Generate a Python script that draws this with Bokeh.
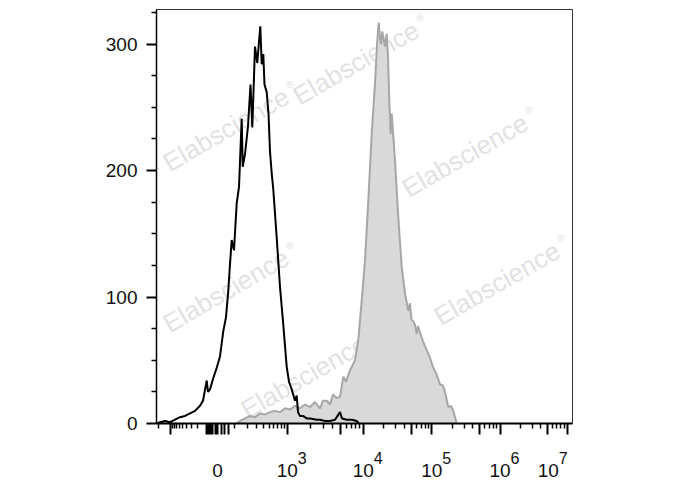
import numpy as np
from bokeh.plotting import figure
from bokeh.models import Range1d, FixedTicker, Label, LinearAxis
from bokeh.embed import file_html
from bokeh.resources import INLINE

# ---------------- data (x in display units of the biexponential scale, 0 = zero intensity) -------------
black_x = [-61, -60.5, -57.5, -52.5, -47.5, -42.5, -37.5, -32.5, -27.5, -22.5, -17.5, -14.5, -10.8, -9.5,
           -7.5, -4.2, -0.8, 2.5, 5.8, 8.5, 10.8, 12.5, 14.2, 16.5, 19.2, 21.5, 24.2, 25.2, 27.5, 30.5,
           33.0, 34.8, 37.5, 39.8, 41.3, 42.8, 44.2, 45.8, 47.0, 49.2, 51.0, 52.5, 54.2, 55.8, 59.2, 62.5,
           65.8, 69.2, 71.5, 74.2, 77.5, 79.2, 80.5, 82.5, 85.5, 89.2, 92.5, 99.2, 102.5, 107.5, 112.5,
           117.5, 122.5, 124.5, 129.2, 134.5, 139.2, 141.5]
black_counts = [0, 0, 1, 2, 1, 3, 5, 6, 8, 10, 14, 18, 34, 25,
                27, 36, 44, 53, 73, 84, 105, 126, 145, 137, 174, 187, 241, 203, 213, 235,
                268, 234, 298, 285, 300, 314, 284, 292, 268, 262, 245, 215, 198, 185, 147, 108,
                78, 45, 33, 27, 18, 22, 9, 6, 6, 4, 4, 3, 3, 2, 2,
                3, 9, 4, 3, 3, 2, 0]

grey_x = [18.5, 22.5, 27.5, 32.5, 37.5, 42.5, 47.5, 52.5, 57.5, 62.5, 67.5, 72.5, 77.5, 82.5, 87.5,
          92.5, 97.5, 102.5, 105.5, 109.2, 112.5, 115.5, 119.5, 122.5, 125.8, 128.5, 132.5, 137.5,
          140.8, 144.2, 147.5, 150.8, 154.2, 157.5, 159.8, 161.2, 162.5, 163.5, 164.8, 167.5, 169.2,
          170.5, 171.8, 173.2, 174.2, 177.5, 180.8, 184.2, 187.5, 190.8, 192.5, 194.0, 195.8, 197.5,
          199.2, 200.5, 202.5, 205.5, 209.2, 212.5, 215.8, 218.5, 222.5, 225.5, 227.5, 230.8, 233.5,
          235.8, 239.2]
grey_counts = [0, 2, 4, 6, 5, 8, 7, 9, 10, 9, 12, 11, 14, 12, 15,
               13, 17, 12, 18, 18, 15, 23, 20, 21, 37, 33, 42, 50,
               66, 97, 129, 176, 229, 269, 303, 317, 305, 300, 310, 298, 308,
               290, 255, 229, 245, 208, 163, 124, 103, 89, 95, 82, 81, 78,
               71, 77, 72, 65, 58, 52, 44, 40, 31, 30, 25, 13, 14,
               10, 0]

y_major = [0, 100, 200, 300]
y_minor = [25, 50, 75, 125, 150, 175, 225, 250, 275, 325]

decade_exponents = [3, 4, 5, 6, 7]
zero_label = "0"
base_label = "10"
watermark_text = "Elabscience"

# ---------------- biexponential display scale calibration -------------
SCALE_C = 146.0
DECADE_VALUES = [0, 1e3, 1e4, 1e5, 1e6, 1e7]
DECADE_POS = [0.0, 69.8, 145.8, 214.2, 282.5, 349.8]
NEG_SLOPE = 46.8 / np.arcsinh(1000 / SCALE_C)


def to_display(v):
    v = np.asarray(v, dtype=float)
    a = np.arcsinh(v / SCALE_C)
    anchors = np.arcsinh(np.array(DECADE_VALUES) / SCALE_C)
    return np.where(v >= 0, np.interp(a, anchors, DECADE_POS), NEG_SLOPE * a)


major_vals = [10.0 ** k for k in decade_exponents]
mid_vals = ([-1000.0] + [float(v) for v in range(-100, 80, 20)]
            + [5 * 10.0 ** k for k in range(3, 7)])
minor_vals = ([m * 10.0 ** k for k in range(3, 7) for m in range(2, 10) if m != 5]
              + [float(m * 100) for m in range(1, 10)]
              + [-float(m * 100) for m in range(2, 10)] + [-2000.0])

major_pos = [float(x) for x in to_display(major_vals)]
mid_pos = [float(x) for x in to_display(mid_vals)]
minor_pos = [float(x) for x in to_display(minor_vals)]

# ---------------- figure -------------
X0, X1 = -61.0, 355.0
Y_MAX = 327.3
FONT = "Liberation Sans"
TXT = "#111111"

p = figure(width=608, height=486, x_range=Range1d(X0, X1), y_range=Range1d(0, Y_MAX),
           output_backend="svg", toolbar_location=None,
           min_border_left=156, min_border_right=36, min_border_top=9, min_border_bottom=63)
p.grid.visible = False
p.outline_line_color = "#333333"
p.outline_line_width = 1
p.background_fill_color = "white"
p.border_fill_color = "white"

# watermarks (kept inside the frame)
ang = np.deg2rad(30)
wm_centers = [(138.5, 285.0), (8.5, 232.4), (8.5, 105.1), (247.5, 211.9), (279.5, 110.7), (86.5, 37.0)]
for cx, cy in wm_centers:
    p.add_layout(Label(x=cx, y=cy, text=watermark_text, angle=ang, text_align="center",
                       text_baseline="middle", text_font=FONT, text_font_size="26px",
                       text_color="#e2e2e2", level="underlay"))
    along, perp = 78, 7
    dx = along * np.cos(ang) - perp * np.sin(ang)
    dy = along * np.sin(ang) + perp * np.cos(ang)
    p.add_layout(Label(x=cx, y=cy, x_offset=dx, y_offset=dy, text="®", angle=ang, text_align="center",
                       text_baseline="middle", text_font=FONT, text_font_size="10px",
                       text_color="#e2e2e2", level="underlay"))

# histograms
p.varea(x=grey_x, y1=0, y2=grey_counts, fill_color="#d9d9d9")
p.line(grey_x, grey_counts, line_color="#a6a6a6", line_width=2)
p.line(black_x, black_counts, line_color="black", line_width=2)

# main x axis: decade / mid ticks + short minor ticks, no labels
tick_major = sorted(major_pos + mid_pos)
xa = p.xaxis[0]
xa.ticker = FixedTicker(ticks=tick_major, minor_ticks=minor_pos)
xa.major_label_overrides = {v: "" for v in tick_major}
xa.major_label_text_font_size = "1px"
xa.major_label_standoff = 0
xa.axis_line_width = 2
xa.axis_line_color = "black"
xa.major_tick_out = 11
xa.major_tick_in = 0
xa.major_tick_line_width = 2
xa.minor_tick_out = 5
xa.minor_tick_in = 0
xa.minor_tick_line_width = 1.5


def label_axis(ticks, overrides, standoff, size):
    ax = LinearAxis(ticker=FixedTicker(ticks=ticks, minor_ticks=[]),
                    major_label_overrides=overrides, major_label_standoff=standoff,
                    major_label_text_font=FONT, major_label_text_font_size=size,
                    major_label_text_color=TXT, axis_line_color=None,
                    major_tick_line_color=None, minor_tick_line_color=None,
                    major_tick_out=0, major_tick_in=0, minor_tick_out=0, minor_tick_in=0)
    p.add_layout(ax, "below")
    return ax


label_shift = {7: -19.0}

# superscript exponents (stacked first, directly under the tick axis)
sup_ticks = [pos + label_shift.get(k, 0.0) + 15.0 for k, pos in zip(decade_exponents, major_pos)]
sup_over = {t: str(k) for t, k in zip(sup_ticks, decade_exponents)}
label_axis(sup_ticks, sup_over, standoff=17, size="16px")

# "0" and "10" base labels
base_ticks = [0.0] + [pos + label_shift.get(k, 0.0) for k, pos in zip(decade_exponents, major_pos)]
base_over = {base_ticks[0]: zero_label}
base_over.update({t: base_label for t in base_ticks[1:]})
label_axis(base_ticks, base_over, standoff=-3, size="19px")

# y axis
ya = p.yaxis[0]
ya.ticker = FixedTicker(ticks=y_major, minor_ticks=y_minor)
ya.axis_line_width = 1.5
ya.axis_line_color = "black"
ya.major_tick_out = 10
ya.major_tick_in = 0
ya.major_tick_line_width = 2
ya.minor_tick_out = 5
ya.minor_tick_in = 0
ya.minor_tick_line_width = 1.5
ya.major_label_standoff = 9
ya.major_label_text_font = FONT
ya.major_label_text_font_size = "19px"
ya.major_label_text_color = TXT

open("out.html", "w").write(file_html(p, INLINE))
